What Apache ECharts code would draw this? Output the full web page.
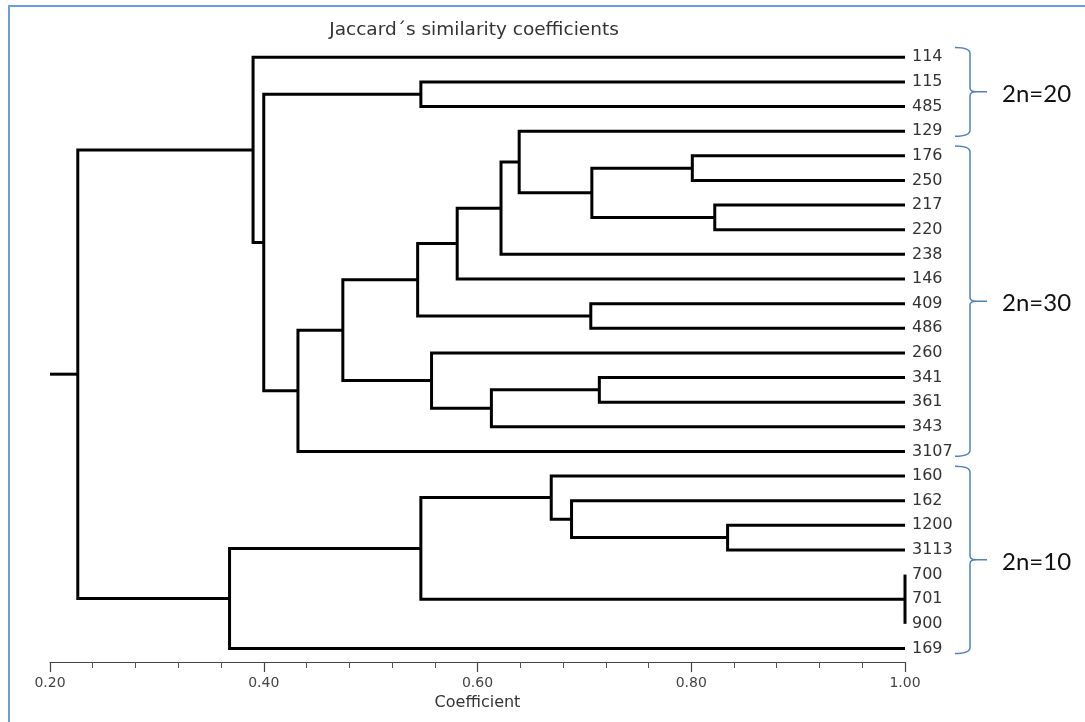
<!DOCTYPE html>
<html>
<head>
<meta charset="utf-8">
<title>Jaccard dendrogram</title>
<script src="https://cdn.jsdelivr.net/npm/echarts@6/dist/echarts.min.js"></script>
<style>
  html, body { margin: 0; padding: 0; background: #fff; }
  #chart { width: 1085px; height: 722px; }
</style>
</head>
<body>
<div id="chart"></div>
<script>
// leaves, top to bottom
const leaves = ['114', '115', '485', '129', '176', '250', '217', '220', '238', '146', '409', '486',
  '260', '341', '361', '343', '3107', '160', '162', '1200', '3113', '700', '701', '900', '169'];

// node ids 0..24 are the leaves, merge k makes node 25 + k
const mergeChildren = [
  [4, 5], [6, 7], [25, 26], [3, 27], [28, 8], [29, 9], [10, 11], [30, 31],
  [13, 14], [33, 15], [12, 34], [32, 35], [36, 16], [1, 2], [38, 37], [0, 39],
  [19, 20], [18, 41], [17, 42], [21, 22, 23], [43, 44], [45, 24], [40, 46]
];
const mergeHeights = [
  0.801, 0.822, 0.707, 0.639, 0.622, 0.581, 0.706, 0.544,
  0.714, 0.613, 0.557, 0.474, 0.432, 0.547, 0.400, 0.390,
  0.834, 0.688, 0.669, 1.000, 0.547, 0.368, 0.226
];

// brackets on the right
const groupLabels = ['2n=20', '2n=30', '2n=10'];
const groupFirst = [0, 4, 17];
const groupLast = [3, 16, 24];

const xTicks = [0.2, 0.4, 0.6, 0.8, 1.0];

const xMin = xTicks[0];
const xMax = xTicks[xTicks.length - 1];

// node positions: x = similarity, y = leaf index (midpoint of children)
const nodeX = leaves.map(() => xMax);
const nodeY = leaves.map((_, i) => i);
mergeChildren.forEach((ch, k) => {
  const ys = ch.map(c => nodeY[c]);
  nodeX.push(mergeHeights[k]);
  nodeY.push((Math.min(...ys) + Math.max(...ys)) / 2);
});

const lineStyle = { stroke: '#000', lineWidth: 3, fill: 'none' };

function renderTree(params, api) {
  const k = params.dataIndex;
  const h = mergeHeights[k];
  const ch = mergeChildren[k].slice().sort((a, b) => nodeY[a] - nodeY[b]);
  const first = ch[0];
  const last = ch[ch.length - 1];
  const items = [{
    type: 'polyline',
    shape: {
      points: [
        api.coord([nodeX[first], nodeY[first]]),
        api.coord([h, nodeY[first]]),
        api.coord([h, nodeY[last]]),
        api.coord([nodeX[last], nodeY[last]])
      ]
    },
    style: lineStyle
  }];
  ch.slice(1, -1).forEach(c => {
    const a = api.coord([h, nodeY[c]]);
    const b = api.coord([nodeX[c], nodeY[c]]);
    items.push({ type: 'line', shape: { x1: a[0], y1: a[1], x2: b[0], y2: b[1] }, style: lineStyle });
  });
  if (k === mergeChildren.length - 1) {
    const id = leaves.length + k;
    const a = api.coord([h, nodeY[id]]);
    const b = api.coord([xMin, nodeY[id]]);
    items.push({ type: 'line', shape: { x1: a[0], y1: a[1], x2: b[0], y2: b[1] }, style: lineStyle });
  }
  return { type: 'group', children: items };
}

function renderBrace(params, api) {
  const i = params.dataIndex;
  const top = api.coord([xMax, groupFirst[i] - 0.4]);
  const bot = api.coord([xMax, groupLast[i] + 0.2]);
  const x0 = top[0] + 50, xv = top[0] + 65, xt = top[0] + 82;
  const yt = top[1], yb = bot[1], ym = (yt + yb) / 2;
  const r = 6;
  const d = 'M' + x0 + ' ' + yt + ' Q' + xv + ' ' + yt + ' ' + xv + ' ' + (yt + r) +
    ' L' + xv + ' ' + (ym - 4) + ' Q' + xv + ' ' + ym + ' ' + (xv + 6) + ' ' + ym +
    ' L' + xt + ' ' + ym + ' M' + (xv + 6) + ' ' + ym + ' Q' + xv + ' ' + ym + ' ' + xv + ' ' + (ym + 4) +
    ' L' + xv + ' ' + (yb - r) + ' Q' + xv + ' ' + yb + ' ' + x0 + ' ' + yb;
  return {
    type: 'group',
    children: [
      { type: 'path', shape: { pathData: d }, style: { stroke: '#4f81bd', lineWidth: 1.5, fill: 'none' } },
      {
        type: 'text',
        x: xt + 15, y: ym + 2,
        style: { text: groupLabels[i], font: '24px Lato', fill: '#111', verticalAlign: 'middle' }
      }
    ]
  };
}

const chart = echarts.init(document.getElementById('chart'));
chart.setOption({
  animation: false,
  backgroundColor: '#fff',
  textStyle: { fontFamily: 'DejaVu Sans' },
  grid: { left: 50, right: 180, top: 32.7, bottom: 60 },
  graphic: [
    {
      type: 'rect', silent: true,
      shape: { x: 9, y: 6, width: 1200, height: 1000 },
      style: { stroke: '#6a9de3', lineWidth: 2, fill: 'none' }
    },
    {
      type: 'text', x: 474, y: 30,
      style: {
        text: 'Jaccard´s similarity coefficients', font: '18.5px DejaVu Sans',
        fill: '#333', align: 'center', verticalAlign: 'middle'
      }
    }
  ],
  xAxis: {
    type: 'value',
    min: xMin,
    max: xMax,
    interval: xTicks[1] - xTicks[0],
    name: 'Coefficient',
    nameLocation: 'middle',
    nameGap: 30,
    nameTextStyle: { fontSize: 16, color: '#333' },
    axisLine: { onZero: false, lineStyle: { color: '#444', width: 1 } },
    axisTick: { length: 10, lineStyle: { color: '#444', width: 1.2 } },
    minorTick: { show: true, splitNumber: 5, length: 6, lineStyle: { color: '#555' } },
    axisLabel: { formatter: v => v.toFixed(2), margin: 14, fontSize: 14, color: '#444' },
    splitLine: { show: false }
  },
  yAxis: {
    type: 'value',
    inverse: true,
    position: 'right',
    min: -1,
    max: 24.55,
    interval: 1,
    axisLine: { show: false },
    axisTick: { show: false },
    splitLine: { show: false },
    axisLabel: {
      margin: 7,
      fontSize: 16,
      color: '#333',
      formatter: v => {
        const i = Math.round(v);
        return Math.abs(v - i) < 1e-6 && i >= 0 && i < leaves.length ? leaves[i] : '';
      }
    }
  },
  series: [
    {
      type: 'custom',
      silent: true,
      clip: false,
      renderItem: renderTree,
      data: mergeHeights.map((h, k) => [h, nodeY[leaves.length + k]])
    },
    {
      type: 'custom',
      silent: true,
      clip: false,
      renderItem: renderBrace,
      data: groupLabels.map((_, i) => [xMax, (groupFirst[i] + groupLast[i]) / 2])
    }
  ]
});
</script>
</body>
</html>
